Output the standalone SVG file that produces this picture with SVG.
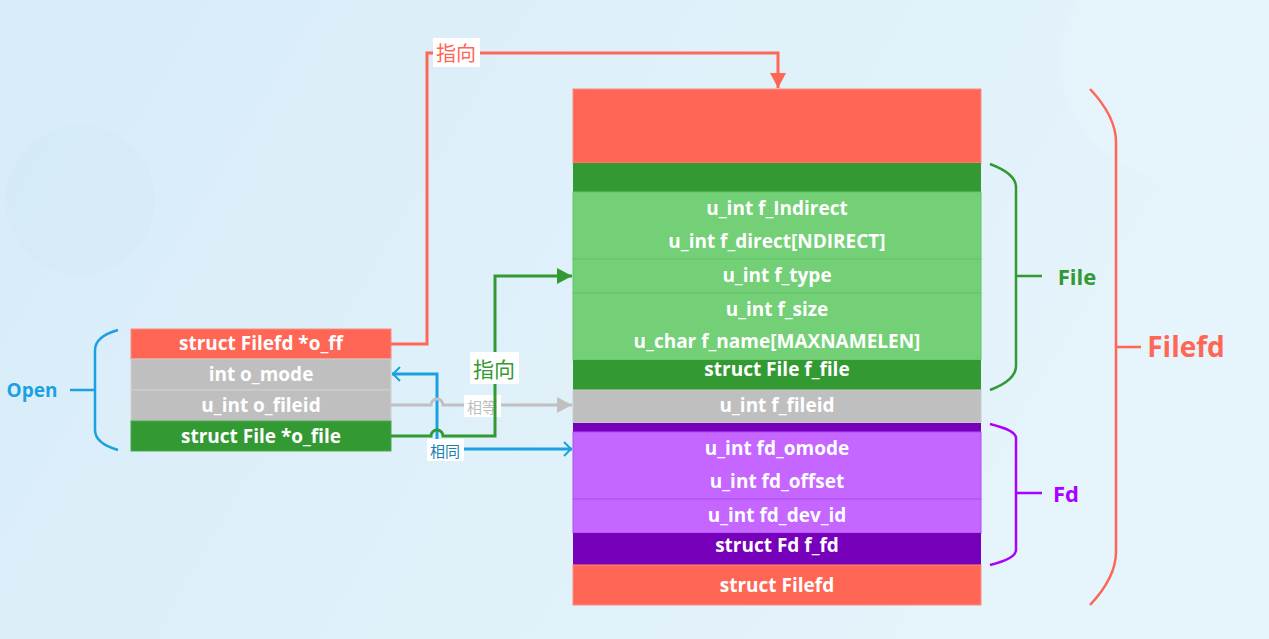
<svg xmlns="http://www.w3.org/2000/svg" width="1269" height="639" viewBox="0 0 1269 639">
<defs>
<linearGradient id="bg" x1="0" y1="0" x2="1" y2="0.3">
<stop offset="0" stop-color="#d7ecf8"/>
<stop offset="1" stop-color="#e6f4fb"/>
</linearGradient>
<marker id="mRed" markerUnits="userSpaceOnUse" markerWidth="18" markerHeight="18" refX="15" refY="8" orient="auto"><path d="M0,0 L15,8 L0,16 Z" fill="#ff6655"/></marker>
<marker id="mGreen" markerUnits="userSpaceOnUse" markerWidth="18" markerHeight="18" refX="15" refY="8" orient="auto"><path d="M0,0 L15,8 L0,16 Z" fill="#339933"/></marker>
<marker id="mGray" markerUnits="userSpaceOnUse" markerWidth="18" markerHeight="18" refX="15" refY="8" orient="auto"><path d="M0,0 L15,8 L0,16 Z" fill="#c0c0c0"/></marker>
<marker id="mBlue" markerUnits="userSpaceOnUse" markerWidth="14" markerHeight="18" refX="10" refY="8" orient="auto-start-reverse"><path d="M2,1 L9,8 L2,15" fill="none" stroke="#1ba1e2" stroke-width="2"/></marker>
</defs>
<style>
.t{font-family:"Open Sans","Noto Sans","Liberation Sans",sans-serif;font-weight:bold;font-size:19px;fill:#ffffff;text-anchor:middle;dominant-baseline:central}
.cj{font-family:"Noto Sans CJK SC","Noto Sans",sans-serif;text-anchor:middle;dominant-baseline:central}
.red{fill:#ff6655}.dg{fill:#339933}.lg{fill:#73d076}.gr{fill:#bfbfbf}.dp{fill:#7700bb}.lp{fill:#c466ff}
.ln{fill:none;stroke-width:3}
.br{fill:none;stroke-width:2.5}
</style>
<rect width="1269" height="639" fill="url(#bg)"/>
<circle cx="80" cy="200" r="75" fill="#d1e8f5" opacity="0.35"/>
<circle cx="1180" cy="60" r="120" fill="#ebf6fc" opacity="0.25"/>

<g id="open">
<rect x="131" y="329" width="260" height="30" class="red" stroke="#ff8b7e"/>
<text x="261" y="343" class="t">struct Filefd *o_ff</text>
<rect x="131" y="359" width="260" height="31" class="gr" stroke="#d0d0d0"/>
<text x="261" y="374" class="t">int o_mode</text>
<rect x="131" y="390" width="260" height="31" class="gr" stroke="#d0d0d0"/>
<text x="261" y="405" class="t">u_int o_fileid</text>
<rect x="131" y="421" width="260" height="30" class="dg" stroke="#4aa84a"/>
<text x="261" y="436" class="t">struct File *o_file</text>
</g>

<g id="filefd">
<rect x="573" y="89" width="408" height="74" class="red" stroke="#ff8b7e"/>
<rect x="573" y="163" width="408" height="29" class="dg"/>
<rect x="573" y="192" width="408" height="67" class="lg" stroke="#66c46a"/>
<text x="777" y="208" class="t">u_int f_Indirect</text>
<text x="777" y="241" class="t">u_int f_direct[NDIRECT]</text>
<rect x="573" y="259" width="408" height="34" class="lg" stroke="#66c46a"/>
<text x="777" y="275" class="t">u_int f_type</text>
<rect x="573" y="293" width="408" height="67" class="lg" stroke="#66c46a"/>
<text x="777" y="309" class="t">u_int f_size</text>
<text x="777" y="341" class="t">u_char f_name[MAXNAMELEN]</text>
<rect x="573" y="360" width="408" height="30" class="dg"/>
<text x="777" y="369" class="t">struct File f_file</text>
<rect x="573" y="390" width="408" height="33" class="gr" stroke="#cccccc"/>
<text x="777" y="405" class="t">u_int f_fileid</text>
<rect x="573" y="423" width="408" height="9" class="dp"/>
<rect x="573" y="432" width="408" height="67" class="lp" stroke="#b050f0"/>
<text x="777" y="448" class="t">u_int fd_omode</text>
<text x="777" y="481" class="t">u_int fd_offset</text>
<rect x="573" y="499" width="408" height="34" class="lp" stroke="#b050f0"/>
<text x="777" y="515" class="t">u_int fd_dev_id</text>
<rect x="573" y="533" width="408" height="32" class="dp"/>
<text x="777" y="545" class="t">struct Fd f_fd</text>
<rect x="573" y="565" width="408" height="40" class="red" stroke="#ff8b7e"/>
<text x="777" y="585" class="t">struct Filefd</text>
</g>

<g id="brackets">
<path class="br" stroke="#1ba1e2" d="M118,330 C104,334 95,340 95,350 V430 C95,440 104,446 118,450 M95,390 H70"/>
<text x="32" y="390" class="t" style="fill:#1ba1e2;font-size:19px">Open</text>
<path class="br" stroke="#339933" d="M990,164 C1006,170 1016,177 1016,187 V366 C1016,376 1006,384 990,390 M1016,276 H1042"/>
<text x="1077" y="276" class="t" style="fill:#339933;font-size:22px">File</text>
<path class="br" stroke="#aa00ff" d="M990,424 C1006,428 1016,432 1016,438 V550 C1016,556 1006,561 990,565 M1016,493 H1042"/>
<text x="1066" y="493" class="t" style="fill:#aa00ff;font-size:22px">Fd</text>
<path class="br" stroke="#ff6655" d="M1090,89 C1106,106 1116,124 1116,142 V552 C1116,570 1106,588 1090,605 M1116,347 H1141"/>
<text x="1186" y="346" class="t" style="fill:#ff6655;font-size:28px">Filefd</text>
</g>

<g id="connectors">
<path class="ln" stroke="#ff6655" d="M391,344 H427 V53 H778 V88" marker-end="url(#mRed)"/>
<rect x="433" y="38" width="47" height="29" fill="#ffffff"/>
<text x="456" y="52" class="cj" style="fill:#ff6655;font-size:20px">指向</text>

<path class="ln" stroke="#1ba1e2" d="M392,374 H437 V449 H572" marker-start="url(#mBlue)" marker-end="url(#mBlue)"/>

<path class="ln" stroke="#c0c0c0" d="M391,405 H431 A6,6 0 0 1 443,405 H572" marker-end="url(#mGray)"/>
<rect x="464" y="395" width="37" height="22" fill="#ffffff"/>
<text x="482" y="406" class="cj" style="fill:#bfbfbf;font-size:15px">相等</text>

<path class="ln" stroke="#339933" d="M391,436 H431 A6,6 0 0 1 443,436 H495 V276 H572" marker-end="url(#mGreen)"/>
<rect x="470" y="352" width="49" height="32" fill="#ffffff"/>
<text x="494" y="368" class="cj" style="fill:#339933;font-size:21px">指向</text>

<rect x="427" y="439" width="37" height="22" fill="#ffffff"/>
<text x="445" y="450" class="cj" style="fill:#1a7fb5;font-size:15px">相同</text>
</g>
</svg>
